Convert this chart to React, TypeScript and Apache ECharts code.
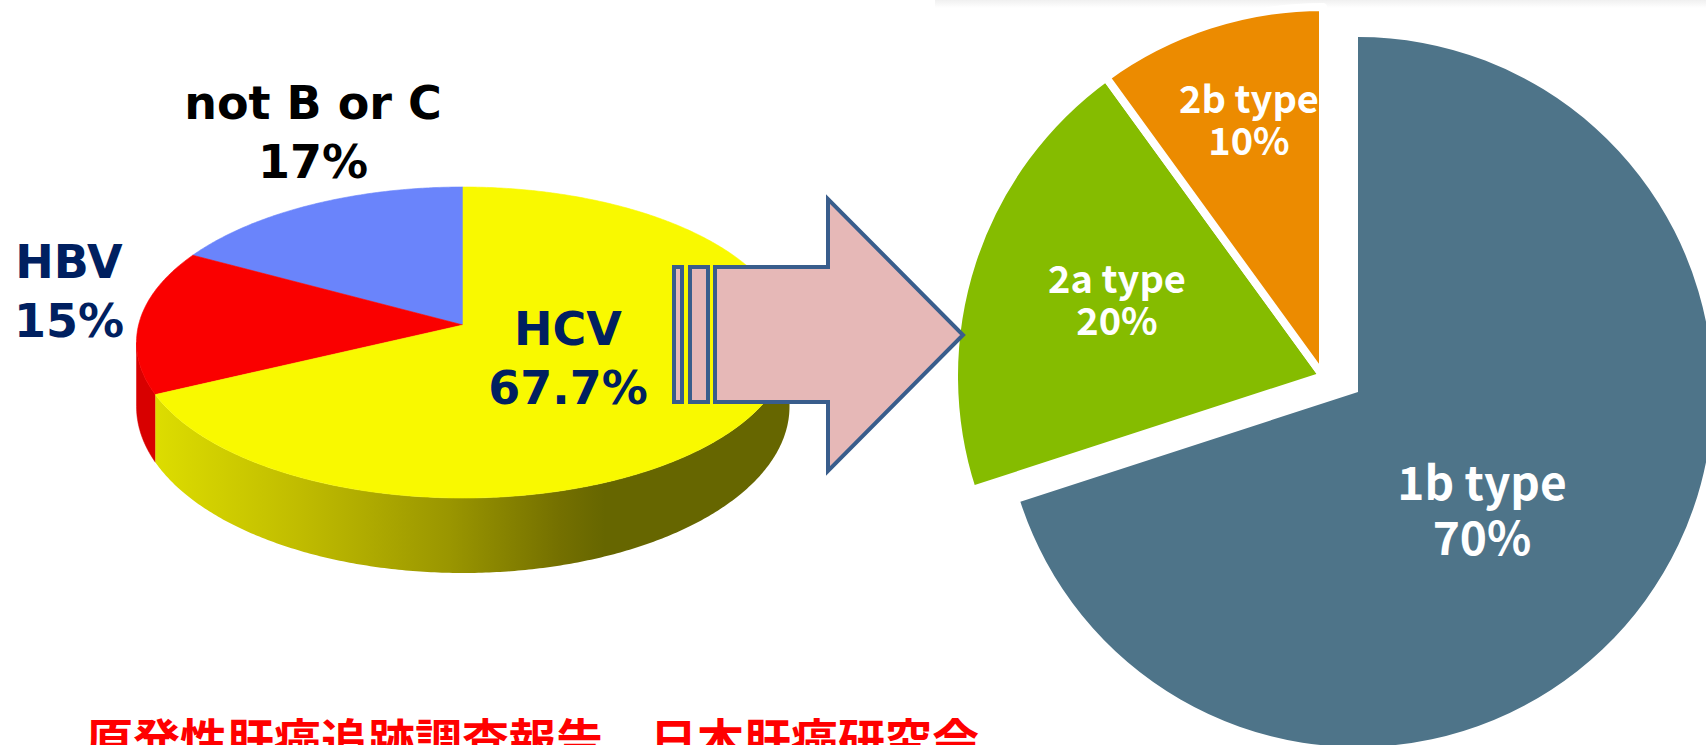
import React, { useEffect, useRef } from 'react';
import * as echarts from 'echarts';

// ---- data ----
const leftCategories = ['not B or C', 'HBV', 'HCV'];
const leftValues = [17, 15, 67.7];
const leftColors = ['#6a84fb', '#fa0000', '#f9f900'];
const leftWallColors = ['#4a62d0', '#d80000', '#dede00'];
const leftLabelColors = ['#000000', '#002060', '#002060'];

const rightCategories = ['1b type', '2a type', '2b type'];
const rightValues = [70, 20, 10];
const rightColors = ['#4e7489', '#85bc00', '#ec8b00'];

const footnote = '原発性肝癌追跡調査報告　日本肝癌研究会';

// ---- 3D pie geometry (perspective ellipse) ----
const CX = 463;
const CY = 342.5;
const RX = 326.5;
const RY = 155.5;
const A = 0.1125; // perspective shift of the centre
const D0 = 64; // wall depth at the middle
const DK = 11; // extra depth towards the front

const leftTotal = leftValues.reduce((s, v) => s + v, 0);

function proj(phi: number) {
  const u = -Math.sin(phi);
  const v = Math.cos(phi);
  const den = 1 + A * v;
  const vp = (v + A) / den;
  const up = (u * Math.sqrt(1 - A * A)) / den;
  return [CX + RX * up, CY - RY * vp, vp];
}

function leftLabelText(i: number) {
  return leftCategories[i] + '\n' + leftValues[i] + '%';
}
function rightLabelText(i: number) {
  return rightCategories[i] + '\n' + rightValues[i] + '%';
}

export default function App() {
  const ref = useRef<HTMLDivElement>(null);

  useEffect(() => {
    if (!ref.current) return;
    const chart = echarts.init(ref.current, null, { renderer: 'svg' });

    const wallGradient = new echarts.graphic.LinearGradient(
      150, 0, 800, 0,
      [
        { offset: 0, color: '#dede00' },
        { offset: 0.23, color: '#c0bc00' },
        { offset: 0.46, color: '#9a9600' },
        { offset: 0.63, color: '#747000' },
        { offset: 0.7, color: '#666600' },
        { offset: 1, color: '#666600' },
      ],
      true
    );

    const wallStart = Math.acos(-A);
    const wallEnd = 2 * Math.PI - wallStart;

    const renderItem = (params: any, api: any) => {
      const i = params.dataIndex;
      let start = 0;
      for (let j = 0; j < i; j++) start += leftValues[j];
      const val = api.value(0);
      const p0 = (start / leftTotal) * 2 * Math.PI;
      const p1 = ((start + val) / leftTotal) * 2 * Math.PI;
      const children: any[] = [];

      const w0 = Math.max(p0, wallStart);
      const w1 = Math.min(p1, wallEnd);
      if (w1 > w0) {
        const n = Math.max(4, Math.ceil((w1 - w0) / 0.01));
        const upper: number[][] = [];
        const lower: number[][] = [];
        for (let k = 0; k <= n; k++) {
          const pt = proj(w0 + ((w1 - w0) * k) / n);
          upper.push([pt[0], pt[1]]);
          lower.push([pt[0], pt[1] + D0 - DK * pt[2]]);
        }
        const fill = i === 2 ? wallGradient : leftWallColors[i];
        children.push({
          type: 'polygon',
          shape: { points: upper.concat(lower.reverse()) },
          style: { fill, stroke: i === 2 ? null : leftWallColors[i], lineWidth: 0.5 },
        });
      }

      const n = Math.max(4, Math.ceil((p1 - p0) / 0.01));
      const pts: number[][] = [[CX, CY - RY * A]];
      for (let k = 0; k <= n; k++) {
        const pt = proj(p0 + ((p1 - p0) * k) / n);
        pts.push([pt[0], pt[1]]);
      }
      children.push({
        type: 'polygon',
        shape: { points: pts },
        style: { fill: leftColors[i], stroke: leftColors[i], lineWidth: 0.6 },
      });
      return { type: 'group', children };
    };

    const leftLabelPos = [
      [313, 132.5],
      [69, 291],
      [568, 358],
    ];
    const rightLabelPos = [
      [1482, 507, 46, 55],
      [1117, 297.5, 38, 42],
      [1249, 117.5, 38, 42],
    ];

    const graphics: any[] = [
      {
        type: 'rect',
        shape: { x: 935, y: 0, width: 771, height: 8 },
        style: {
          fill: new echarts.graphic.LinearGradient(0, 0, 0, 1, [
            { offset: 0, color: '#f0f0f0' },
            { offset: 1, color: '#ffffff' },
          ]),
        },
        z: 1,
      },
      {
        type: 'rect',
        shape: { x: 674, y: 267, width: 8, height: 135 },
        style: { fill: '#e6b8b7', stroke: '#395d8c', lineWidth: 4 },
        z: 10,
      },
      {
        type: 'rect',
        shape: { x: 690, y: 267, width: 18, height: 135 },
        style: { fill: '#e6b8b7', stroke: '#395d8c', lineWidth: 4 },
        z: 10,
      },
      {
        type: 'polygon',
        shape: {
          points: [
            [715, 267],
            [828, 267],
            [828, 199],
            [963, 335],
            [828, 471],
            [828, 402],
            [715, 402],
          ],
        },
        style: { fill: '#e6b8b7', stroke: '#395d8c', lineWidth: 4, lineJoin: 'miter' },
        z: 10,
      },
    ];

    leftCategories.forEach((_, i) => {
      graphics.push({
        type: 'text',
        x: leftLabelPos[i][0],
        y: leftLabelPos[i][1],
        z: 20,
        style: {
          text: leftLabelText(i),
          fill: leftLabelColors[i],
          font: 'bold 46px "DejaVu Sans", Verdana, sans-serif',
          lineHeight: 59,
          align: 'center',
          verticalAlign: 'middle',
        },
      });
    });

    rightCategories.forEach((_, i) => {
      const p = rightLabelPos[i];
      graphics.push({
        type: 'text',
        x: p[0],
        y: p[1],
        z: 20,
        style: {
          text: rightLabelText(i),
          fill: '#ffffff',
          font: `bold ${p[2]}px "Noto Sans CJK JP", sans-serif`,
          lineHeight: p[3],
          align: 'center',
          verticalAlign: 'middle',
        },
      });
    });

    graphics.push({
      type: 'text',
      x: 86,
      y: 714,
      z: 20,
      style: {
        text: footnote,
        fill: '#ff0000',
        font: 'bold 47px "Noto Sans CJK JP", sans-serif',
        align: 'left',
        verticalAlign: 'top',
      },
    });

    chart.setOption({
      animation: false,
      backgroundColor: '#ffffff',
      graphic: { elements: graphics },
      series: [
        {
          type: 'custom',
          coordinateSystem: 'none',
          renderItem,
          silent: true,
          data: leftValues.map((v, i) => ({ name: leftCategories[i], value: [v] })),
        },
        {
          type: 'pie',
          center: [1358, 392],
          radius: 355,
          startAngle: 90,
          clockwise: true,
          silent: true,
          label: { show: false },
          labelLine: { show: false },
          data: rightValues.map((v, i) => ({
            name: rightCategories[i],
            value: v,
            itemStyle: { color: i === 0 ? rightColors[i] : 'rgba(0,0,0,0)', borderWidth: 0 },
          })),
        },
        {
          type: 'pie',
          center: [1323, 376],
          radius: 369,
          startAngle: 90,
          clockwise: true,
          silent: true,
          label: { show: false },
          labelLine: { show: false },
          data: rightValues.map((v, i) => ({
            name: rightCategories[i],
            value: v,
            itemStyle:
              i === 0
                ? { color: 'rgba(0,0,0,0)', borderWidth: 0 }
                : { color: rightColors[i], borderColor: '#ffffff', borderWidth: 8 },
          })),
        },
      ],
    });

    return () => chart.dispose();
  }, []);

  return (
    <div
      ref={ref}
      style={{ position: 'absolute', left: 0, top: 0, width: 1706, height: 745, background: '#fff' }}
    />
  );
}
